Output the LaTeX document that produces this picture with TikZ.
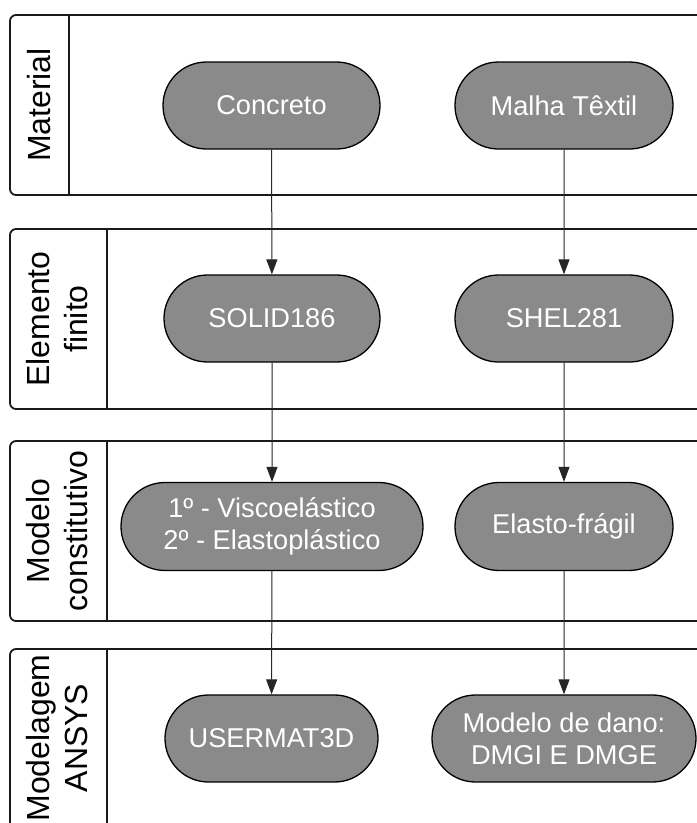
\documentclass[tikz,border=0pt]{standalone}
\usepackage{fontspec}
\setmainfont{Liberation Sans}
\usetikzlibrary{shapes.misc,arrows.meta}
\definecolor{pillgray}{HTML}{8A8A8A}
\definecolor{laneline}{HTML}{1A1A1A}

\begin{document}
\begin{tikzpicture}[x=1pt,y=-1pt,
  lane/.style={draw=laneline,line width=1.8pt,rounded corners=6pt},
  divider/.style={draw=laneline,line width=1.6pt},
  lanelabel/.style={rotate=90,align=center,inner sep=0pt,
    font=\fontsize{32}{38}\selectfont},
  pill/.style={rounded rectangle,draw=black,line width=1.3pt,fill=pillgray,
    text=white,align=center,inner sep=0pt,minimum height=87pt,
    font=\fontsize{27.2}{32}\selectfont},
  flow/.style={draw=black!85,line width=1pt,
    -{Triangle[length=15pt,width=11pt]}}]
\useasboundingbox (0,0) rectangle (697,823);
\clip (0,0) rectangle (697,823);

% swimlanes (open to the right and bottom)
\draw[lane] (10,15) rectangle (730,195);
\draw[divider] (69,15) -- (69,195);
\draw[lane] (10,229) rectangle (730,409);
\draw[divider] (107,229) -- (107,409);
\draw[lane] (10,441) rectangle (730,621);
\draw[divider] (107,441) -- (107,621);
\draw[lane] (10,649) rectangle (730,829);
\draw[divider] (107,649) -- (107,829);

% lane titles
\node[lanelabel] (l1) at (39.5,105) {Material};
\node[lanelabel] (l2) at (57,319) {Elemento\\finito};
\node[lanelabel] (l3) at (57,531) {Modelo\\constitutivo};
\node[lanelabel] (l4) at (57,738) {Modelagem\\ANSYS};

% process steps
\node[pill,minimum width=217pt] (conc) at (271.5,105.5) {Concreto};
\node[pill,minimum width=218pt] (malha) at (564,105.5) {Malha Têxtil};
\node[pill,minimum width=216pt] (solid) at (272,318.5) {SOLID186};
\node[pill,minimum width=218pt] (shel) at (564,318.5) {SHEL281};
\node[pill,minimum width=302pt,minimum height=88pt] (visco) at (272,526.5) {1º - Viscoelástico\\2º - Elastoplástico};
\node[pill,minimum width=218pt,minimum height=88pt] (elasto) at (564,526.5) {Elasto-frágil};
\node[pill,minimum width=213pt] (user) at (271.5,738.5) {USERMAT3D};
\node[pill,minimum width=264pt] (dano) at (564,738.5) {Modelo de dano:\\DMGI E DMGE};

% connectors
\draw[flow] (conc) -- (solid);
\draw[flow] (malha) -- (shel);
\draw[flow] (solid) -- (visco);
\draw[flow] (shel) -- (elasto);
\draw[flow] (visco) -- (user);
\draw[flow] (elasto) -- (dano);
\end{tikzpicture}
\end{document}
